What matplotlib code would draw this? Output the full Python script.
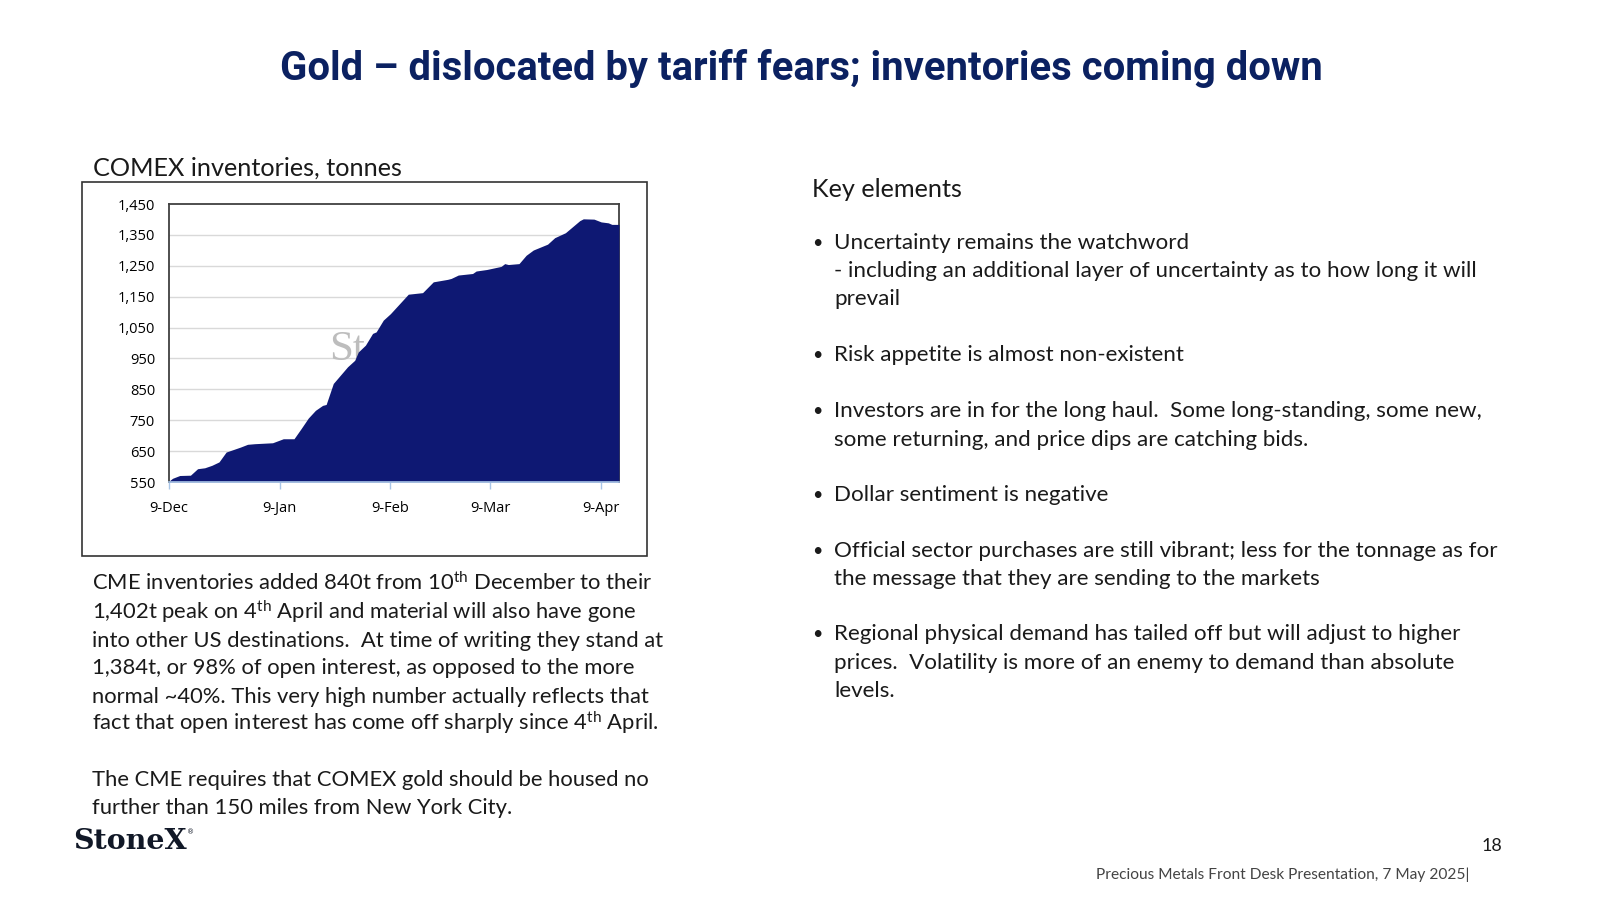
import matplotlib
matplotlib.use("Agg")
import matplotlib.pyplot as plt
import numpy as np
import pandas as pd

# ---------------- data ----------------
dates = ["2024-12-09", "2024-12-10", "2024-12-12", "2024-12-15", "2024-12-17",
         "2024-12-19", "2024-12-21", "2024-12-23", "2024-12-25", "2024-12-27",
         "2024-12-29", "2024-12-31", "2025-01-02", "2025-01-07", "2025-01-10",
         "2025-01-13", "2025-01-15", "2025-01-17", "2025-01-19", "2025-01-21",
         "2025-01-22", "2025-01-24", "2025-01-26", "2025-01-28", "2025-01-30",
         "2025-01-31", "2025-02-02", "2025-02-04", "2025-02-05", "2025-02-07",
         "2025-02-09", "2025-02-14", "2025-02-18", "2025-02-21", "2025-02-25",
         "2025-02-26", "2025-02-28", "2025-03-04", "2025-03-05", "2025-03-08",
         "2025-03-12", "2025-03-13", "2025-03-14", "2025-03-17", "2025-03-19",
         "2025-03-21", "2025-03-25", "2025-03-27", "2025-03-30", "2025-04-03",
         "2025-04-04", "2025-04-07", "2025-04-09", "2025-04-11", "2025-04-12",
         "2025-04-14"]
inventories = [553, 562, 571, 572, 593,
               596, 604, 615, 647, 655,
               663, 672, 674, 677, 690,
               690, 723, 757, 782, 798,
               801, 869, 896, 923, 944,
               971, 993, 1031, 1036, 1074,
               1095, 1158, 1163, 1198, 1206,
               1209, 1220, 1225, 1233, 1238,
               1248, 1257, 1254, 1257, 1284,
               1301, 1320, 1341, 1357, 1396,
               1402, 1401, 1392, 1389, 1384,
               1384]
tick_dates = ["2024-12-09", "2025-01-09", "2025-02-09", "2025-03-09", "2025-04-09"]
tick_labels = ["9-Dec", "9-Jan", "9-Feb", "9-Mar", "9-Apr"]
y_ticks = [550, 650, 750, 850, 950, 1050, 1150, 1250, 1350, 1450]

title = "Gold \u2013 dislocated by tariff fears; inventories coming down"
chart_title = "COMEX inventories, tonnes"
left_lines = [
    "CME inventories added 840t from 10$^{\\mathrm{th}}$ December to their",
    "1,402t peak on 4$^{\\mathrm{th}}$ April and material will also have gone",
    "into other US destinations.  At time of writing they stand at",
    "1,384t, or 98% of open interest, as opposed to the more",
    "normal ~40%. This very high number actually reflects that",
    "fact that open interest has come off sharply since 4$^{\\mathrm{th}}$ April.",
    "The CME requires that COMEX gold should be housed no",
    "further than 150 miles from New York City.",
]
left_y = [583, 612, 640, 667, 696, 723, 779, 807]
bullets = [
    ["Uncertainty remains the watchword",
     "- including an additional layer of uncertainty as to how long it will",
     "prevail"],
    ["Risk appetite is almost non-existent"],
    ["Investors are in for the long haul.  Some long-standing, some new,",
     "some returning, and price dips are catching bids."],
    ["Dollar sentiment is negative"],
    ["Official sector purchases are still vibrant; less for the tonnage as for",
     "the message that they are sending to the markets"],
    ["Regional physical demand has tailed off but will adjust to higher",
     "prices.  Volatility is more of an enemy to demand than absolute",
     "levels."],
]
bullet_y = [[242, 270, 298], [354], [410, 439], [494], [550, 578], [633, 662, 690]]

# ---------------- style ----------------
BODY = "Lato"
plt.rcParams["font.family"] = [BODY, "DejaVu Sans"]
plt.rcParams["mathtext.fontset"] = "custom"
plt.rcParams["mathtext.rm"] = BODY
plt.rcParams["mathtext.it"] = BODY + ":italic"
plt.rcParams["mathtext.bf"] = BODY + ":bold"

W, H = 1600, 900
fig = plt.figure(figsize=(16, 9), dpi=100)
fig.patch.set_facecolor("white")
renderer = fig.canvas.get_renderer()

NAVY_T = "#0b2161"
NAVY_F = "#0e1873"
TXT = "#1a1a1a"


def px(x, y):
    return x / W, 1 - y / H


def fit_size(s, target_w, family, weight="normal", ref=20.0):
    t = fig.text(0, 0, s, fontsize=ref, family=family, weight=weight)
    w = t.get_window_extent(renderer).width
    t.remove()
    return ref * target_w / w


def put(x, y, s, size, **kw):
    return fig.text(*px(x, y), s, fontsize=size, **kw)


# title
TFAM = ["Roboto", "DejaVu Sans"]
ts = fit_size(title, 1040, TFAM, weight="bold")
put(801, 80, title, ts, family=TFAM, weight="bold",
    color=NAVY_T, ha="center", va="baseline")

# chart heading
hs = fit_size(chart_title, 310, [BODY])
put(93, 176, chart_title, hs, color=TXT, ha="left", va="baseline")

# frame around chart
frame = plt.Rectangle(px(82, 556), (647 - 82) / W, (556 - 182) / H,
                      transform=fig.transFigure, fill=False,
                      edgecolor="#333333", linewidth=1.2)
fig.add_artist(frame)

# chart axes
ax = fig.add_axes([169 / W, 1 - 482 / H, (619 - 169) / W, (482 - 204) / H])
x = pd.to_datetime(dates)
ax.fill_between(x, inventories, y_ticks[0], color=NAVY_F, linewidth=0, zorder=3)
ax.set_ylim(y_ticks[0], y_ticks[-1])
ax.set_xlim(pd.Timestamp(dates[0]), pd.Timestamp(dates[-1]))
ax.set_yticks(y_ticks)
ax.set_yticklabels([f"{v:,}" for v in y_ticks])
ax.set_xticks(pd.to_datetime(tick_dates))
ax.set_xticklabels(tick_labels)
for v in y_ticks[1:-1]:
    ax.axhline(v, color="#d9d9d9", linewidth=1.0, zorder=1)
ax.text(0.5, 0.475, "StoneX", transform=ax.transAxes, ha="center", va="center",
        fontsize=31, family="Liberation Serif", color="#bdbdbd", zorder=2)
ax.tick_params(axis="y", length=0, pad=10, labelsize=10.5, labelcolor="#000000")
ax.tick_params(axis="x", length=5, width=1, color="#a9c6e8", pad=9,
               labelsize=10.5, labelcolor="#000000")
for lab in ax.get_xticklabels() + ax.get_yticklabels():
    lab.set_family(["Open Sans", "DejaVu Sans"])
for s in ["left", "top", "right"]:
    ax.spines[s].set_color("#404040")
    ax.spines[s].set_linewidth(1.3)
ax.spines["bottom"].set_color("#a9c6e8")
ax.spines["bottom"].set_linewidth(1.2)
ax.spines["bottom"].set_zorder(5)

# left paragraph
bs = fit_size(left_lines[0], 559, [BODY])
for s, y in zip(left_lines, left_y):
    put(92, y + 7, s, bs, color=TXT, ha="left", va="baseline")

# right side
put(812, 197, "Key elements", hs, color=TXT, ha="left", va="baseline")
rs = fit_size(bullets[0][0], 355, [BODY])
for lines, ys in zip(bullets, bullet_y):
    put(812, ys[0] + 6, "\u2022", rs * 0.8, color=TXT, ha="left", va="baseline")
    for s, y in zip(lines, ys):
        put(834, y + 7, s, rs, color=TXT, ha="left", va="baseline")

# logo
put(73, 849, "StoneX", 20.5, family="DejaVu Serif", weight="bold",
    color="#111827", ha="left", va="baseline")
put(187, 834, "\u00ae", 5, family="DejaVu Sans", color="#111827",
    ha="left", va="baseline")

# page number & footer
put(1502, 851, "18", 13, color=TXT, ha="right", va="baseline")
put(1469, 879, "Precious Metals Front Desk Presentation, 7 May 2025|", 11.2,
    color="#444444", ha="right", va="baseline")

fig.savefig("out.png", dpi=100, facecolor="white")
